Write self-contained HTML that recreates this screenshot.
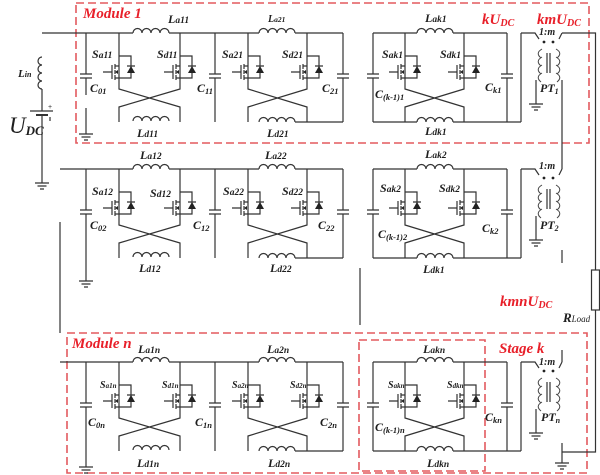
<!DOCTYPE html>
<html><head><meta charset="utf-8"><style>
html,body{margin:0;padding:0;background:#fff;}
svg{display:block;}
.w{fill:none;stroke:#333;stroke-width:1.2;}
.t{font-family:"Liberation Serif",serif;font-style:italic;font-weight:bold;font-size:12px;fill:#1e1e1e;}
.r{font-family:"Liberation Serif",serif;font-style:italic;font-weight:bold;font-size:15px;fill:#e8202a;}
.box{fill:none;stroke:#e35a5f;stroke-width:1.6;stroke-dasharray:8 4;}
</style></head><body>
<svg width="600" height="475" viewBox="0 0 600 475" xmlns="http://www.w3.org/2000/svg">
<defs>
<path id="ind" class="w" d="M0,0 a4.5,4.5 0 0 1 9,0 a4.5,4.5 0 0 1 9,0 a4.5,4.5 0 0 1 9,0 a4.5,4.5 0 0 1 9,0"/>
<g id="sw">
<path class="w" d="M-16,39H-7 M-7,32V46 M-4,31V36 M-4,37V41 M-4,42V47 M-4,33H0 M-4,45H0 M0,23H12V45H0 M8,33H16"/>
<polygon points="8,40 16,40 12,33" fill="#222"/>
<polygon points="-4,39 -1,37 -1,41" fill="#222"/>
</g>
<path id="cap" class="w" d="M-6,0H6M-6,4H6"/>
<path id="gnd" class="w" d="M-7,0H7M-4.5,3H4.5M-2,6H2"/>
<g id="pt">
<path class="w" d="M0,0H14L18,6 M38,6L41,0 M26,20V40 M29,20V40 M15,47V71"/>
<path fill="none" stroke="#444" stroke-width="1" d="M21,16Q14,20 20,25 M21,24Q14,28 20,33 M21,32Q14,36 20,41 M21,40Q14,44 20,49
M35,16Q42,20 36,25 M35,24Q42,28 36,33 M35,32Q42,36 36,41 M35,40Q42,44 36,49"/>
<circle cx="23" cy="9" r="1.4" fill="#222"/>
<circle cx="32" cy="9" r="1.4" fill="#222"/>
<use href="#gnd" x="15" y="71"/>
</g>
</defs>

<!-- dashed boxes -->
<rect class="box" x="76" y="3" width="513" height="140"/>
<rect class="box" x="67" y="333" width="520" height="140"/>
<rect class="box" x="359" y="340" width="126" height="131"/>

<!-- source -->
<path class="w" d="M42,57 a4,4 0 0 0 0,8 a4,4 0 0 0 0,8 a4,4 0 0 0 0,8 a4,4 0 0 0 0,8 M42,89V111 M30,111H53 M42,115V183"/>
<path d="M36,115H48" stroke="#333" stroke-width="2"/>
<use href="#gnd" x="42" y="183"/>
<text x="48" y="109" font-family="Liberation Sans,sans-serif" font-size="7" fill="#333">+</text>
<path class="w" d="M50,117V121" stroke-width="0.8"/>

<!-- buses -->
<path class="w" d="M42,33H133 M169,33H259 M295,33H343 M373,33H417 M453,33H507
M60,169H133 M169,169H259 M295,169H343 M373,169H417 M453,169H507
M60,362H133 M169,362H259 M295,362H343 M373,362H417 M453,362H507"/>
<use href="#ind" x="133" y="33"/><use href="#ind" x="259" y="33"/><use href="#ind" x="417" y="33"/>
<use href="#ind" x="133" y="169"/><use href="#ind" x="259" y="169"/><use href="#ind" x="417" y="169"/>
<use href="#ind" x="133" y="362"/><use href="#ind" x="259" y="362"/><use href="#ind" x="417" y="362"/>

<!-- bottom inductors -->
<use href="#ind" x="133" y="121"/><use href="#ind" x="259" y="122"/><use href="#ind" x="417" y="122"/>
<use href="#ind" x="133" y="257"/><use href="#ind" x="259" y="258"/><use href="#ind" x="417" y="258"/>
<use href="#ind" x="133" y="450"/><use href="#ind" x="259" y="451"/><use href="#ind" x="417" y="451"/>

<!-- cross structures -->
<path class="w" d="M119,33V89L180,107V122M180,33V89L119,107V122
M248,33V89L307,107V122M307,33V89L248,107V122
M405,33V89L464,107V122M464,33V89L405,107V122
M119,169V225L180,243V258M180,169V225L119,243V258
M248,169V225L307,243V258M307,169V225L248,243V258
M405,169V225L464,243V258M464,169V225L405,243V258
M119,362V418L180,436V451M180,362V418L119,436V451
M248,362V418L307,436V451M307,362V418L248,436V451
M405,362V418L464,436V451M464,362V418L405,436V451"/>

<!-- bottom lines -->
<path class="w" d="M295,122H343 M373,122H417 M453,122H521 M521,33V122
M295,258H343 M373,258H417 M453,258H521 M521,169V258
M295,451H343 M373,451H417 M453,451H521 M521,362V451"/>

<!-- switches -->
<use href="#sw" x="119" y="33"/><use href="#sw" x="180" y="33"/><use href="#sw" x="248" y="33"/><use href="#sw" x="307" y="33"/><use href="#sw" x="405" y="33"/><use href="#sw" x="464" y="33"/>
<use href="#sw" x="119" y="169"/><use href="#sw" x="180" y="169"/><use href="#sw" x="248" y="169"/><use href="#sw" x="307" y="169"/><use href="#sw" x="405" y="169"/><use href="#sw" x="464" y="169"/>
<use href="#sw" x="119" y="362"/><use href="#sw" x="180" y="362"/><use href="#sw" x="248" y="362"/><use href="#sw" x="307" y="362"/><use href="#sw" x="405" y="362"/><use href="#sw" x="464" y="362"/>

<!-- capacitors -->
<path class="w" d="M86,33V74 M86,78V95 M86,108V134
M215,33V74M215,78V122 M343,33V74M343,78V122 M373,33V74M373,78V122 M507,33V74M507,78V122
M86,169V210 M86,214V281
M215,169V210M215,214V258 M343,169V210M343,214V258 M373,169V210M373,214V258 M507,169V210M507,214V258
M86,362V403 M86,407V467
M215,362V403M215,407V451 M343,362V403M343,407V451 M373,362V403M373,407V451 M507,362V403M507,407V451"/>
<use href="#cap" x="86" y="74"/><use href="#cap" x="215" y="74"/><use href="#cap" x="343" y="74"/><use href="#cap" x="373" y="74"/><use href="#cap" x="507" y="74"/>
<use href="#cap" x="86" y="210"/><use href="#cap" x="215" y="210"/><use href="#cap" x="343" y="210"/><use href="#cap" x="373" y="210"/><use href="#cap" x="507" y="210"/>
<use href="#cap" x="86" y="403"/><use href="#cap" x="215" y="403"/><use href="#cap" x="343" y="403"/><use href="#cap" x="373" y="403"/><use href="#cap" x="507" y="403"/>
<use href="#gnd" x="86" y="134"/><use href="#gnd" x="86" y="281"/><use href="#gnd" x="86" y="467"/>

<!-- transformers -->
<use href="#pt" x="521" y="33"/>
<use href="#pt" x="521" y="169"/>
<use href="#pt" x="521" y="362"/>

<!-- output / load -->
<path class="w" d="M562,33H595.5V270 M595.5,310V452H562 M562,443V463 M562,80V169 M562,250V263 M562,350V362
M60,222V333 M360,268V325"/>
<rect x="591.5" y="270" width="8" height="40" fill="#fff" stroke="#333" stroke-width="1.2"/>
<use href="#gnd" x="562" y="463"/>

<!-- red labels -->
<text class="r" x="83" y="18">Module 1</text>
<text class="r" x="72" y="348">Module n</text>
<text class="r" x="499" y="353">Stage k</text>
<text class="r" x="482" y="24">kU<tspan font-size="10" dy="2">DC</tspan></text>
<text class="r" x="537" y="24">kmU<tspan font-size="10" dy="2">DC</tspan></text>
<text class="r" x="500" y="306">kmnU<tspan font-size="10" dy="2">DC</tspan></text>

<!-- source labels -->
<text class="t" x="18" y="77" style="font-size:11px">L<tspan font-size="8">in</tspan></text>
<text class="t" x="9" y="133" style="font-size:23px;font-weight:normal">U<tspan font-size="13" font-weight="bold" dy="2">DC</tspan></text>
<text class="t" x="563" y="322" style="font-size:13px">R<tspan font-size="9" font-weight="normal">Load</tspan></text>

<!-- row 1 labels -->
<text class="t" x="168" y="23">L<tspan font-size="9.5">a11</tspan></text>
<text class="t" x="268" y="22" style="font-size:10px">L<tspan font-size="7.5">a21</tspan></text>
<text class="t" x="425" y="22">L<tspan font-size="9.5">ak1</tspan></text>
<text class="t" x="92" y="58">S<tspan font-size="9.5">a11</tspan></text>
<text class="t" x="157" y="58">S<tspan font-size="9.5">d11</tspan></text>
<text class="t" x="222" y="58">S<tspan font-size="9.5">a21</tspan></text>
<text class="t" x="282" y="58">S<tspan font-size="9.5">d21</tspan></text>
<text class="t" x="382" y="58">S<tspan font-size="9.5">ak1</tspan></text>
<text class="t" x="440" y="58">S<tspan font-size="9.5">dk1</tspan></text>
<text class="t" x="90" y="92">C<tspan font-size="8.5" dy="2">01</tspan></text>
<text class="t" x="197" y="92">C<tspan font-size="8.5" dy="2">11</tspan></text>
<text class="t" x="322" y="92">C<tspan font-size="8.5" dy="2">21</tspan></text>
<text class="t" x="375" y="98">C<tspan font-size="8.5" dy="2">(k-1)1</tspan></text>
<text class="t" x="485" y="91">C<tspan font-size="8.5" dy="2">k1</tspan></text>
<text class="t" x="137" y="137">L<tspan font-size="9.5">d11</tspan></text>
<text class="t" x="267" y="137">L<tspan font-size="9.5">d21</tspan></text>
<text class="t" x="425" y="135">L<tspan font-size="9.5">dk1</tspan></text>
<text class="t" x="539" y="35" style="font-size:10px">1:m</text>
<text class="t" x="540" y="92">PT<tspan font-size="8" dy="2">1</tspan></text>

<!-- row 2 labels -->
<text class="t" x="140" y="159">L<tspan font-size="9.5">a12</tspan></text>
<text class="t" x="265" y="159">L<tspan font-size="9.5">a22</tspan></text>
<text class="t" x="425" y="158">L<tspan font-size="9.5">ak2</tspan></text>
<text class="t" x="92" y="195">S<tspan font-size="9.5">a12</tspan></text>
<text class="t" x="150" y="197">S<tspan font-size="9.5">d12</tspan></text>
<text class="t" x="223" y="195">S<tspan font-size="9.5">a22</tspan></text>
<text class="t" x="282" y="195">S<tspan font-size="9.5">d22</tspan></text>
<text class="t" x="380" y="192">S<tspan font-size="9.5">ak2</tspan></text>
<text class="t" x="439" y="192">S<tspan font-size="9.5">dk2</tspan></text>
<text class="t" x="90" y="229">C<tspan font-size="8.5" dy="2">02</tspan></text>
<text class="t" x="193" y="229">C<tspan font-size="8.5" dy="2">12</tspan></text>
<text class="t" x="318" y="229">C<tspan font-size="8.5" dy="2">22</tspan></text>
<text class="t" x="378" y="238">C<tspan font-size="8.5" dy="2">(k-1)2</tspan></text>
<text class="t" x="482" y="232">C<tspan font-size="8.5" dy="2">k2</tspan></text>
<text class="t" x="139" y="272">L<tspan font-size="9.5">d12</tspan></text>
<text class="t" x="270" y="272">L<tspan font-size="9.5">d22</tspan></text>
<text class="t" x="423" y="273">L<tspan font-size="9.5">dk1</tspan></text>
<text class="t" x="539" y="169" style="font-size:10px">1:m</text>
<text class="t" x="540" y="229">PT<tspan font-size="8" dy="2">2</tspan></text>

<!-- row 3 labels -->
<text class="t" x="138" y="353">L<tspan font-size="9.5">a1n</tspan></text>
<text class="t" x="267" y="353">L<tspan font-size="9.5">a2n</tspan></text>
<text class="t" x="423" y="353">L<tspan font-size="9.5">akn</tspan></text>
<text class="t" x="100" y="388" style="font-size:10px">S<tspan font-size="7">a1n</tspan></text>
<text class="t" x="162" y="388" style="font-size:10px">S<tspan font-size="7">d1n</tspan></text>
<text class="t" x="232" y="388" style="font-size:10px">S<tspan font-size="7">a2n</tspan></text>
<text class="t" x="290" y="388" style="font-size:10px">S<tspan font-size="7">d2n</tspan></text>
<text class="t" x="388" y="388" style="font-size:10px">S<tspan font-size="7">akn</tspan></text>
<text class="t" x="447" y="388" style="font-size:10px">S<tspan font-size="7">dkn</tspan></text>
<text class="t" x="88" y="426">C<tspan font-size="8.5" dy="2">0n</tspan></text>
<text class="t" x="195" y="426">C<tspan font-size="8.5" dy="2">1n</tspan></text>
<text class="t" x="320" y="426">C<tspan font-size="8.5" dy="2">2n</tspan></text>
<text class="t" x="375" y="431">C<tspan font-size="8.5" dy="2">(k-1)n</tspan></text>
<text class="t" x="485" y="421">C<tspan font-size="8.5" dy="2">kn</tspan></text>
<text class="t" x="137" y="467">L<tspan font-size="9.5">d1n</tspan></text>
<text class="t" x="268" y="467">L<tspan font-size="9.5">d2n</tspan></text>
<text class="t" x="427" y="467">L<tspan font-size="9.5">dkn</tspan></text>
<text class="t" x="539" y="365" style="font-size:10px">1:m</text>
<text class="t" x="541" y="421">PT<tspan font-size="8" dy="2">n</tspan></text>
</svg>
</body></html>
